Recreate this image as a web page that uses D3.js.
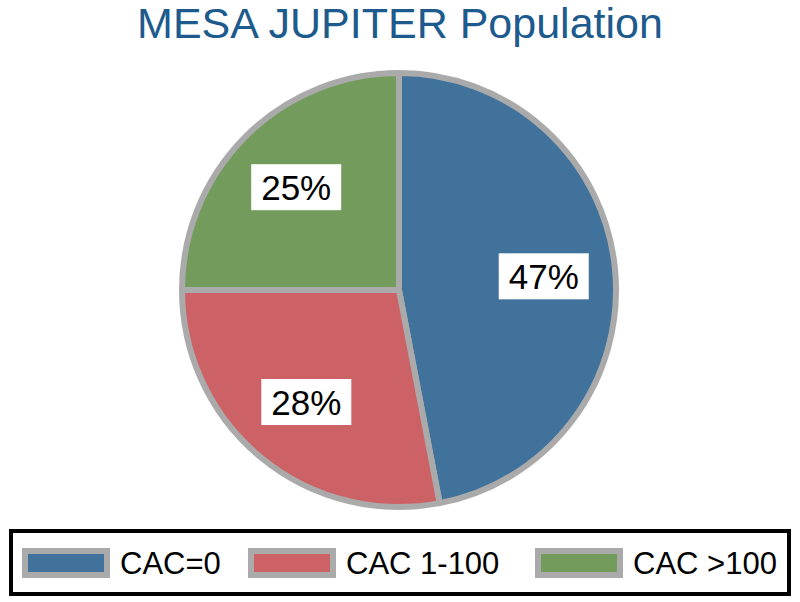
<!DOCTYPE html>
<html>
<head>
<meta charset="utf-8">
<script src="https://cdn.jsdelivr.net/npm/d3@7"></script>
<style>
  body { margin: 0; background: #fff; }
  text { font-family: "Liberation Sans", Arial, sans-serif; }
</style>
</head>
<body>
<div id="chart"></div>
<script>
// pie data
var categories = ["CAC=0", "CAC 1-100", "CAC >100"];
var shares = [47, 28, 25];
var colors = ["#41729c", "#cd6266", "#739c5c"];

var width = 800, height = 602;
var radius = 217;
var cx = 399, cy = 290;

var svg = d3.select("#chart").append("svg")
    .attr("width", width)
    .attr("height", height);

svg.append("text")
    .attr("x", width / 2)
    .attr("y", 38)
    .attr("text-anchor", "middle")
    .attr("font-size", 43)
    .attr("fill", "#1d5a8e")
    .text("MESA JUPITER Population");

var pie = d3.pie().sort(null).value(d => d.v);
var data = categories.map((c, i) => ({name: c, v: shares[i], color: colors[i]}));
var arcs = pie(data);

var arc = d3.arc().innerRadius(0).outerRadius(radius);
var labelArc = d3.arc().innerRadius(radius * 0.67).outerRadius(radius * 0.67);

var g = svg.append("g").attr("transform", `translate(${cx},${cy})`);

g.selectAll(".slice")
    .data(arcs)
    .enter()
    .append("path")
    .attr("class", "slice")
    .attr("d", arc)
    .attr("fill", d => d.data.color)
    .attr("stroke", "#aaaaaa")
    .attr("stroke-width", 6)
    .attr("stroke-linejoin", "round");

var labels = g.selectAll(".lbl")
    .data(arcs)
    .enter()
    .append("g")
    .attr("class", "lbl")
    .attr("transform", d => `translate(${labelArc.centroid(d)})`);

labels.append("rect")
    .attr("x", -45)
    .attr("y", -23)
    .attr("width", 90)
    .attr("height", 46)
    .attr("fill", "#fff");

labels.append("text")
    .attr("text-anchor", "middle")
    .attr("dy", "0.36em")
    .attr("font-size", 35)
    .attr("fill", "#000")
    .text(d => d.data.v + "%");

// legend
var legend = svg.append("g");
legend.append("rect")
    .attr("x", 11)
    .attr("y", 531)
    .attr("width", 778)
    .attr("height", 63)
    .attr("fill", "#fff")
    .attr("stroke", "#000")
    .attr("stroke-width", 4);

var legendX = d3.scaleOrdinal()
    .domain(categories)
    .range([22, 248, 535]);

var items = legend.selectAll(".item")
    .data(data)
    .enter()
    .append("g")
    .attr("class", "item")
    .attr("transform", d => `translate(${legendX(d.name)},548)`);

items.append("rect")
    .attr("x", 3)
    .attr("y", 3)
    .attr("width", 82)
    .attr("height", 24)
    .attr("fill", d => d.color)
    .attr("stroke", "#aaaaaa")
    .attr("stroke-width", 6);

items.append("text")
    .attr("x", 98)
    .attr("y", 15)
    .attr("dy", "0.36em")
    .attr("font-size", 31)
    .attr("fill", "#000")
    .text(d => d.name);
</script>
</body>
</html>
